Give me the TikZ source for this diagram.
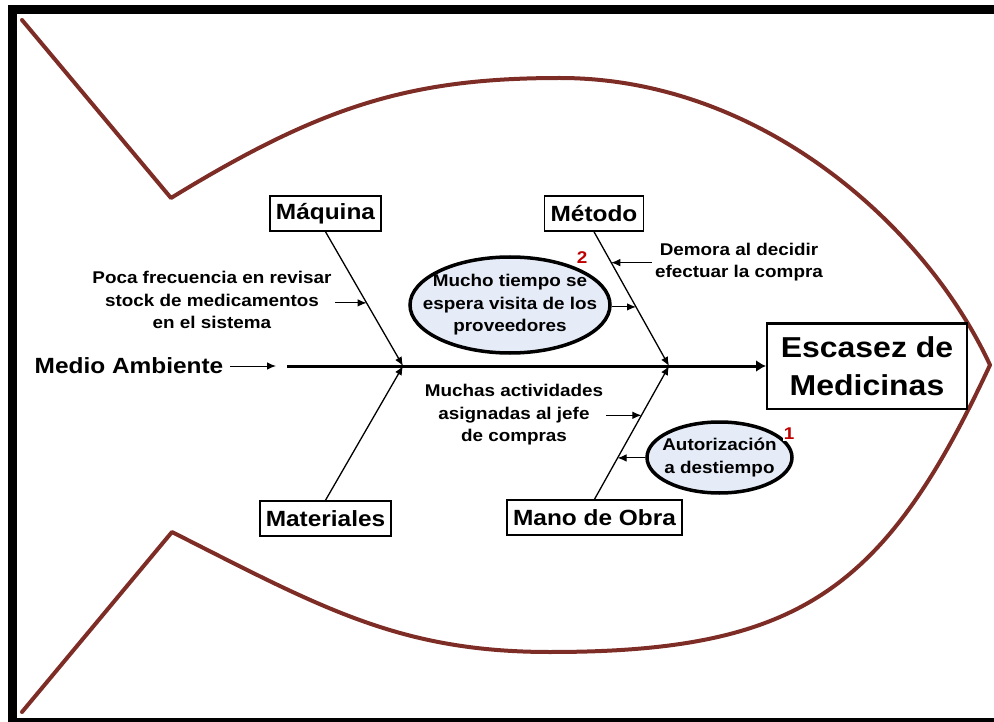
\documentclass[tikz,border=0pt]{standalone}
\usepackage{fontspec}
\setmainfont{Liberation Sans}[FakeStretch=1.11]
\usetikzlibrary{shapes.geometric,arrows.meta,calc}

\definecolor{fishred}{RGB}{126,45,38}
\definecolor{bubblefill}{RGB}{229,235,247}
\definecolor{numred}{RGB}{192,0,0}

\begin{document}
\begin{tikzpicture}[x=1pt, y=-1pt, >={Latex[length=9pt,width=7.5pt]},
    fish/.style={draw=fishred, line width=4pt, line cap=round, line join=round},
    catbox/.style={draw, line width=1.5pt, inner xsep=6pt, minimum height=35pt,
                   font=\bfseries\fontsize{22}{26}\selectfont},
    effect/.style={draw, line width=2pt, minimum width=200pt, minimum height=85pt,
                   align=center, font=\bfseries\fontsize{28.8}{38}\selectfont},
    cause/.style={align=center, inner sep=3pt, font=\bfseries\fontsize{17}{22.5}\selectfont},
    bubble/.style={ellipse, draw, line width=3.5pt, fill=bubblefill, inner sep=0pt},
    num/.style={text=numred, fill=white, inner sep=1pt, font=\bfseries\fontsize{17}{20}\selectfont},
    spine/.style={line width=3pt, -{Latex[length=10pt,width=12pt]}},
    bone/.style={line width=1.3pt, ->}]
                    \useasboundingbox (0,0) rectangle (994,722);

                    % Frame
                    \fill (8,5) rectangle (994,14);
                    \fill (8,5) rectangle (17,722);
                    \fill (8,718) rectangle (994,722);

                    % Draw fish outline
                    \draw[fish] (22,20) -- (171,198)
                        .. controls (321,106) and (410,78) .. (560,78)
                        .. controls (760,78) and (925,225) .. (990,365)
                        .. controls (885,590) and (800,652) .. (550,652)
                        .. controls (400,652) and (322,608) .. (172,532)
                        -- (22,712);

                    % Head and categories
                    \node[effect] (esc) at (867,366) {Escasez de\\Medicinas};
                    \node[catbox] (maq) at (325.5,213.5) {Máquina};
                    \node[catbox] (mat) at (325.5,518.5) {Materiales};
                    \node[catbox] (met) at (594,213.5) {Método};
                    \node[catbox] (mano) at (594.5,517.5) {Mano de Obra};
                    \node[font=\bfseries\fontsize{22}{26}\selectfont] (medio) at (129,366) {Medio Ambiente};

                    % Spine and bones
                    \coordinate (tail) at (287,366);
                    \coordinate (j1) at (403,366);
                    \coordinate (j2) at (669,366);
                    \draw[->, line width=1pt, shorten <=3pt, shorten >=11pt] (medio.east) -- (tail);
                    \draw[spine] (tail) -- (esc.west);
                    \draw[bone] (maq.south) -- (j1);
                    \draw[bone] (mat.north) -- (j1);
                    \draw[bone] (met.south) -- (j2);
                    \draw[bone] (mano.north) -- (j2);

                    % Points on the bones
                    \path (maq.south) -- (j1) coordinate[pos=0.53] (b1);
                    \path (met.south) -- (j2) coordinate[pos=0.23] (b2) coordinate[pos=0.56] (b3);
                    \path (mano.north) -- (j2) coordinate[pos=0.63] (b4) coordinate[pos=0.31] (b5);

                    % Causes
                    \node[cause] (poca) at (212,300) {Poca frecuencia en revisar\\stock de medicamentos\\en el sistema};
                    \draw[->, line width=1pt] (poca.east |- b1) -- (b1);
                    \node[cause] (demora) at (739,262) {Demora al decidir\\efectuar la compra};
                    \draw[->, line width=1pt] (demora.west |- b2) -- (b2);
                    \node[bubble, minimum width=200pt, minimum height=96pt] (espera) at (510,305) {};
                    \node[cause] (esperatxt) at (espera) {Mucho tiempo se\\espera visita de los\\proveedores};
                    \draw[->, line width=1pt] (espera.east |- b3) -- (b3);
                    \node[cause] (muchas) at (514,415) {Muchas actividades\\asignadas al jefe\\de compras};
                    \draw[->, line width=1pt] (muchas.east |- b4) -- (b4);
                    \node[bubble, minimum width=145pt, minimum height=71pt] (autor) at (719.5,457.5) {};
                    \node[cause] (autortxt) at (autor) {Autorización\\a destiempo};
                    \draw[->, line width=1pt] (autor.west |- b5) -- (b5);

                    % Priority numbers
                    \node[num] (n2) at (582,258) {2};
                    \node[num] (n1) at (789,434) {1};
                \end{tikzpicture}
\end{document}
